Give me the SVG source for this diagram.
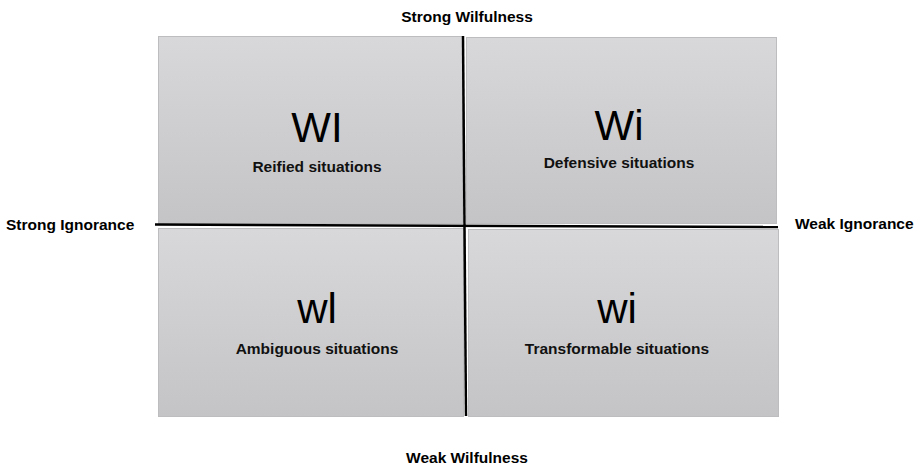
<svg xmlns="http://www.w3.org/2000/svg" width="917" height="466" viewBox="0 0 917 466">
<defs>
<linearGradient id="g" x1="0" y1="0" x2="0" y2="1">
<stop offset="0" stop-color="#d8d8da"/>
<stop offset="1" stop-color="#c4c4c6"/>
</linearGradient>
<style>
.box{fill:url(#g);stroke:#bdbdbf;stroke-width:1}
.big{font-family:"Liberation Sans",Arial,sans-serif;font-size:42px;fill:#000;text-anchor:middle}
.sub{font-family:"Liberation Sans",Arial,sans-serif;font-size:15.5px;font-weight:bold;fill:#111;text-anchor:middle}
.lab{font-family:"Liberation Sans",Arial,sans-serif;font-size:15.5px;font-weight:bold;fill:#000}
.axis{stroke:#000;stroke-width:2.5;fill:none}
</style>
</defs>
<rect width="917" height="466" fill="#fff"/>
<g id="q-WI">
<rect class="box" x="158.5" y="36.5" width="304" height="187"/>
<text class="big" x="317" y="142">WI</text>
<text class="sub" x="317" y="172">Reified situations</text>
</g>
<g id="q-Wi">
<rect class="box" x="466.5" y="37.5" width="310" height="186"/>
<text class="big" x="619" y="140">Wi</text>
<text class="sub" x="619" y="168">Defensive situations</text>
</g>
<g id="q-wl">
<rect class="box" x="158.5" y="228.5" width="305" height="188"/>
<text class="big" x="317" y="323">wl</text>
<text class="sub" x="317" y="354">Ambiguous situations</text>
</g>
<g id="q-wi">
<rect class="box" x="468.5" y="229.5" width="310" height="187"/>
<text class="big" x="617" y="323">wi</text>
<text class="sub" x="617" y="354">Transformable situations</text>
</g>
<g id="connectors">
<line class="axis" x1="155" y1="224.5" x2="778" y2="227"/>
<line class="axis" x1="463" y1="36" x2="466" y2="416"/>
</g>
<g id="labels">
<text class="lab" x="467" y="22" text-anchor="middle">Strong Wilfulness</text>
<text class="lab" x="467" y="463" text-anchor="middle">Weak Wilfulness</text>
<text class="lab" x="6" y="230">Strong Ignorance</text>
<text class="lab" x="795" y="229">Weak Ignorance</text>
</g>
</svg>
